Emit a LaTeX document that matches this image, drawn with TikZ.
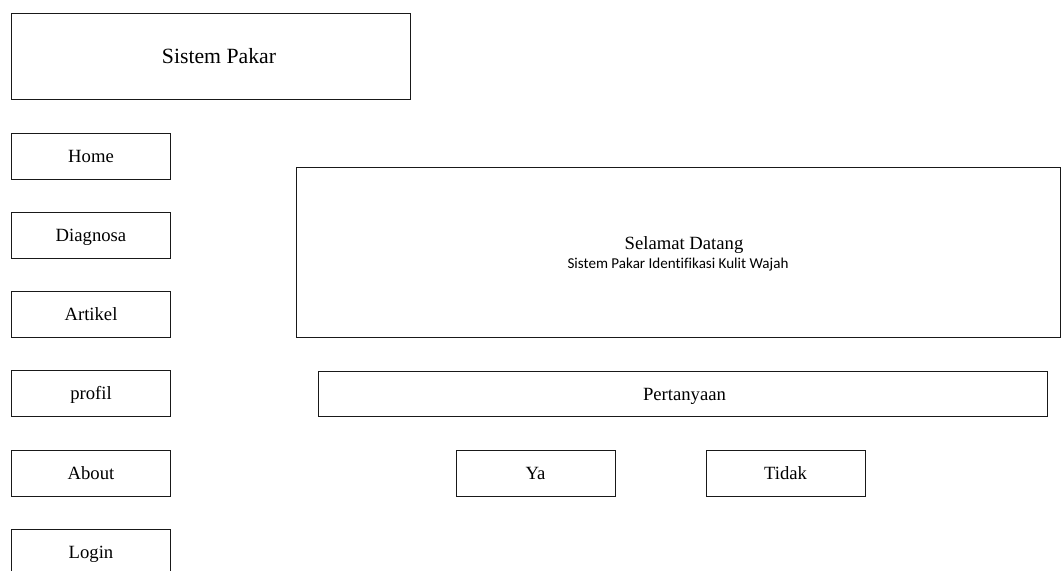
\documentclass[tikz,border=0pt]{standalone}
\usepackage{fontspec}
\setmainfont{Liberation Serif}
\newfontfamily\subfont[Ligatures=NoCommon]{Carlito}
\begin{document}
\begin{tikzpicture}[x=0.75pt,y=-0.75pt,
  box/.style={draw=black!90, line width=0.65pt},
  lbl/.style={font=\fontsize{14}{16}\selectfont, inner sep=0pt, anchor=base}]
\useasboundingbox (0,0) rectangle (1061,571);
% header
\draw[box] (11,13) rectangle (410,99);
\node[lbl, font=\fontsize{16.3}{18}\selectfont] (title) at (219,63) {Sistem Pakar};
% menu
\foreach \y/\t/\n in {133/Home/home, 212/Diagnosa/diag, 291/Artikel/art, 370/profil/prof, 450/About/about}{
  \draw[box] (11,\y) rectangle (170,\y+46);
  \node[lbl] (\n) at (91,\y+29) {\t};
}
\draw[box] (11,572) -- (11,529) -- (170,529) -- (170,572);
\node[lbl] (login) at (91,558) {Login};
% welcome panel
\draw[box] (296,167) rectangle (1060.5,337);
\node[lbl] (welcome) at (684,249) {Selamat Datang};
\node[inner sep=0pt, anchor=base, font=\subfont\fontsize{11.3}{13}\selectfont] (sub) at (678,268)
  {Sistem Pakar Identifikasi Kulit Wajah};
% question and answers
\draw[box] (318,371) rectangle (1047,416);
\node[lbl] (q) at (684.5,400) {Pertanyaan};
\draw[box] (456,450) rectangle (615,496);
\node[lbl] (ya) at (535.5,479) {Ya};
\draw[box] (706,450) rectangle (865,496);
\node[lbl] (tidak) at (785.5,479) {Tidak};
\end{tikzpicture}
\end{document}
